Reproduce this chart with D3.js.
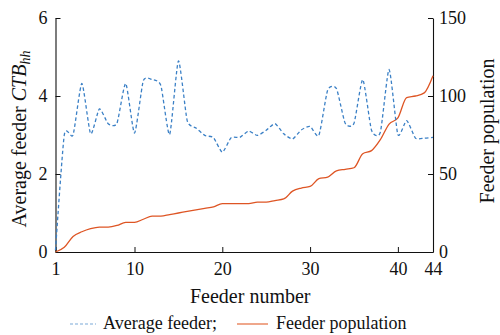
<!DOCTYPE html>
<html>
<head>
<meta charset="utf-8">
<script src="https://cdn.jsdelivr.net/npm/d3@7"></script>
<style>
  body { margin: 0; background: #fff; }
  svg, svg text, svg tspan { font-family: "Liberation Serif", "Times New Roman", Tinos, serif !important; }
</style>
</head>
<body>
<script>
var feeders = d3.range(1, 45);
var avgCTB = [0.05, 3.0, 3.0, 4.32, 3.03, 3.67, 3.29, 3.3, 4.32, 3.05,
              4.39, 4.42, 4.27, 3.01, 4.9, 3.37, 3.18, 2.99, 2.93, 2.56,
              2.93, 2.94, 3.1, 2.99, 3.12, 3.29, 3.03, 2.9, 3.13, 3.22,
              2.99, 4.15, 4.19, 3.3, 3.3, 4.42, 3.12, 3.07, 4.68, 3.01,
              3.37, 2.92, 2.92, 2.94];
var population = [0, 3, 10, 13, 15, 16, 16, 17, 19, 19,
                  21, 23, 23, 24, 25, 26, 27, 28, 29, 31,
                  31, 31, 31, 32, 32, 33, 34, 39, 41, 42,
                  47, 48, 52, 53, 54, 63, 65, 72, 82, 86,
                  99, 100, 102, 113];
var xTicks = [1, 10, 20, 30, 40, 44];
var yLeftTicks = [0, 2, 4, 6];
var yRightTicks = [0, 50, 100, 150];

var serif = "Liberation Serif";

var margin = {top: 18, right: 67, bottom: 83, left: 55.5},
    width = 500 - margin.left - margin.right,
    height = 335 - margin.top - margin.bottom;

var x = d3.scaleLinear().domain([1, 44]).range([0, width]);
var yL = d3.scaleLinear().domain([0, 6]).range([height, 0]);
var yR = d3.scaleLinear().domain([0, 150]).range([height, 0]);

var svg = d3.select("body").append("svg")
    .attr("width", 500)
    .attr("height", 335)
    .attr("font-family", serif)
  .append("g")
    .attr("transform", "translate(" + margin.left + "," + margin.top + ")");

function styleAxis(g) {
    g.attr("font-family", serif).attr("font-size", 18);
    g.selectAll("text").attr("fill", "#111");
    g.selectAll("line").attr("stroke", "#111");
    g.select(".domain").attr("stroke", "#111").attr("stroke-width", 1.1);
}

// axes, ticks point inward
svg.append("g")
    .attr("transform", "translate(0," + height + ")")
    .call(d3.axisBottom(x).tickValues(xTicks).tickFormat(d3.format("d"))
        .tickSizeInner(-5).tickSizeOuter(0).tickPadding(10))
    .call(styleAxis);

svg.append("g")
    .call(d3.axisLeft(yL).tickValues(yLeftTicks).tickFormat(d3.format("d"))
        .tickSizeInner(-5).tickSizeOuter(0).tickPadding(8))
    .call(styleAxis);

svg.append("g")
    .attr("transform", "translate(" + width + ",0)")
    .call(d3.axisRight(yR).tickValues(yRightTicks).tickFormat(d3.format("d"))
        .tickSizeInner(-5).tickSizeOuter(0).tickPadding(6))
    .call(styleAxis);

// lines
var lineL = d3.line()
    .x(function(d, i) { return x(feeders[i]); })
    .y(function(d) { return yL(d); })
    .curve(d3.curveCardinal.tension(0.4));

var lineR = d3.line()
    .x(function(d, i) { return x(feeders[i]); })
    .y(function(d) { return yR(d); })
    .curve(d3.curveMonotoneX);

svg.append("path")
    .datum(population)
    .attr("d", lineR)
    .attr("fill", "none")
    .attr("stroke", "#de5524")
    .attr("stroke-width", 1.3);

svg.append("path")
    .datum(avgCTB)
    .attr("d", lineL)
    .attr("fill", "none")
    .attr("stroke", "#3b80c6")
    .attr("stroke-width", 1.3)
    .attr("stroke-dasharray", "3.5,2.5");

// axis titles
var leftTitle = svg.append("text")
    .attr("transform", "translate(-30," + (height / 2 + 4) + ") rotate(-90)")
    .attr("text-anchor", "middle")
    .attr("font-family", serif)
    .attr("fill", "#111")
    .attr("font-size", 20);
leftTitle.append("tspan").text("Average feeder ");
leftTitle.append("tspan").attr("font-style", "italic").text("CTB");
leftTitle.append("tspan").attr("font-style", "italic").attr("font-size", 14).attr("dy", 4).text("hh");

svg.append("text")
    .attr("transform", "translate(" + (width + 61) + "," + (height / 2 - 4) + ") rotate(-90)")
    .attr("text-anchor", "middle")
    .attr("font-family", serif)
    .attr("fill", "#111")
    .attr("font-size", 20)
    .text("Feeder population");

svg.append("text")
    .attr("x", width / 2 + 6)
    .attr("y", height + 51)
    .attr("text-anchor", "middle")
    .attr("font-family", serif)
    .attr("fill", "#111")
    .attr("font-size", 20)
    .text("Feeder number");

// legend
var leg = svg.append("g")
    .attr("transform", "translate(0," + (height + 77) + ")")
    .attr("font-family", serif)
    .attr("fill", "#111")
    .attr("font-size", 18);
leg.append("line")
    .attr("x1", 14.5).attr("x2", 40.5).attr("y1", -5).attr("y2", -5)
    .attr("stroke", "#7aaad8").attr("stroke-width", 1.2).attr("stroke-dasharray", "3,2");
leg.append("text").attr("x", 47.5).attr("y", 0).text("Average feeder;");
leg.append("line")
    .attr("x1", 181.5).attr("x2", 212.5).attr("y1", -5).attr("y2", -5)
    .attr("stroke", "#e8825a").attr("stroke-width", 1.4);
leg.append("text").attr("x", 220.5).attr("y", 0).text("Feeder population");
</script>
</body>
</html>
